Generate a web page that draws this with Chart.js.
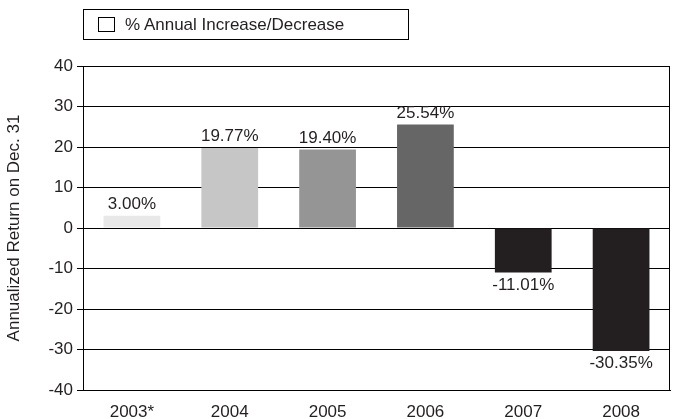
<!DOCTYPE html>
<html>
<head>
<meta charset="UTF-8">
<script src="https://cdn.jsdelivr.net/npm/chart.js"></script>
<style>
  body { margin: 0; background: #fff; font-family: 'Liberation Sans', sans-serif; }
  #wrap { position: relative; width: 675px; height: 419px; }
  #legend { position: absolute; left: 83px; top: 9px; width: 326px; height: 31px; border: 1px solid #000; box-sizing: border-box; font-size: 17px; color: #231f20; display: flex; align-items: center; }
  #legend span.box { display: inline-block; width: 15px; height: 13px; border: 1px solid #000; margin: 0 10px 0 14px; }
</style>
</head>
<body>
<div id="wrap">
  <canvas id="c" width="675" height="419"></canvas>
  <div id="legend"><span class="box"></span>% Annual Increase/Decrease</div>
</div>
<script>
const years = ['2003*', '2004', '2005', '2006', '2007', '2008'];
const returns = [3.00, 19.77, 19.40, 25.54, -11.01, -30.35];
const barColors = ['#e8e8e8', '#c6c6c6', '#959595', '#666666', '#231f20', '#231f20'];

const labelPlugin = {
  id: 'labels',
  afterDatasetsDraw(chart) {
    const ctx = chart.ctx;
    const meta = chart.getDatasetMeta(0);
    ctx.save();
    ctx.font = '17px "Liberation Sans"';
    ctx.fillStyle = '#231f20';
    ctx.textAlign = 'center';
    meta.data.forEach((bar, i) => {
      const v = returns[i];
      if (v >= 0) { ctx.textBaseline = 'bottom'; ctx.fillText(v.toFixed(2) + '%', bar.x, bar.y - 3); }
      else { ctx.textBaseline = 'top'; ctx.fillText(v.toFixed(2) + '%', bar.x, bar.y + 4); }
    });
    const a = chart.chartArea;
    ctx.strokeStyle = '#000'; ctx.lineWidth = 1;
    ctx.strokeRect(a.left + 0.5, a.top + 0.5, a.right - a.left - 1, a.bottom - a.top);
    ctx.restore();
  }
};

new Chart(document.getElementById('c'), {
  type: 'bar',
  data: { labels: years, datasets: [{ data: returns, backgroundColor: barColors, categoryPercentage: 1, barPercentage: 0.58 }] },
  options: {
    responsive: false, animation: false,
    layout: { padding: { top: 66, right: 5, left: 0, bottom: 0 } },
    plugins: { legend: { display: false }, tooltip: { enabled: false } },
    scales: {
      x: { grid: { display: false }, border: { color: '#000' },
           afterFit: s => { s.height = 29; },
           ticks: { color: '#231f20', font: { size: 17, family: 'Liberation Sans' }, padding: 4 } },
      y: { min: -40, max: 40, ticks: { stepSize: 10, color: '#231f20', font: { size: 17, family: 'Liberation Sans' }, padding: 4 },
           afterFit: s => { s.width = 83; },
           grid: { color: '#000', drawTicks: true, tickLength: 6 }, border: { color: '#000' },
           title: { display: true, text: 'Annualized Return on Dec. 31', color: '#231f20', font: { size: 17, family: 'Liberation Sans' } } }
    }
  },
  plugins: [labelPlugin]
});
</script>
</body>
</html>
